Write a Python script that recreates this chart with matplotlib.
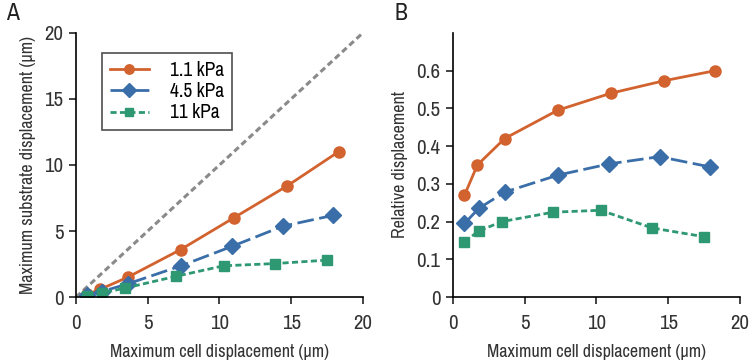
import matplotlib
matplotlib.use("Agg")
import matplotlib.pyplot as plt

plt.rcParams['font.family'] = ['Archivo Narrow', 'Liberation Sans', 'DejaVu Sans']

# data
labels = ['1.1 kPa', '4.5 kPa', '11 kPa']
x_soft = [0.8, 1.7, 3.6, 7.3, 11.0, 14.7, 18.3]
x_mid = [0.8, 1.8, 3.6, 7.3, 10.9, 14.4, 17.9]
x_stiff = [0.8, 1.8, 3.4, 7.0, 10.3, 13.9, 17.5]
sub_soft = [0.2, 0.6, 1.5, 3.6, 6.0, 8.4, 11.0]
sub_mid = [0.16, 0.42, 1.0, 2.36, 3.85, 5.36, 6.18]
sub_stiff = [0.12, 0.3, 0.68, 1.58, 2.37, 2.54, 2.8]
rel_soft = [0.27, 0.35, 0.42, 0.495, 0.54, 0.573, 0.60]
rel_mid = [0.195, 0.235, 0.278, 0.323, 0.353, 0.372, 0.345]
rel_stiff = [0.147, 0.175, 0.2, 0.225, 0.23, 0.183, 0.16]
diag = [0, 20]

colors = ['#D2622E', '#3A6EA8', '#2E9872']
markers = ['o', 'D', 's']
styles = ['-', (0, (6, 2)), (0, (2.2, 1.2))]
msizes = [8, 8, 7.5]

fig = plt.figure(figsize=(7.49, 3.61), dpi=100)
axA = fig.add_axes([0.1015, 0.177, 0.383, 0.732])
axB = fig.add_axes([0.6048, 0.177, 0.383, 0.732])

xs = [x_soft, x_mid, x_stiff]

# panel A
axA.plot(diag, diag, color='#8a8a8a', lw=2.2, linestyle=(0, (2, 1.2)))
for x, y, c, m, ls, ms, lab in zip(xs, [sub_soft, sub_mid, sub_stiff], colors, markers, styles, msizes, labels):
    axA.plot(x, y, color=c, marker=m, ms=ms, lw=2, linestyle=ls, label=lab)
axA.set_xlim(0, 20)
axA.set_ylim(0, 20)
axA.set_xticks([0, 5, 10, 15, 20])
axA.set_yticks([0, 5, 10, 15, 20])
axA.set_xlabel('Maximum cell displacement (μm)', fontsize=13, labelpad=8)
axA.set_ylabel('Maximum substrate displacement (μm)', fontsize=13, labelpad=6)
leg = axA.legend(loc='upper left', bbox_to_anchor=(0.09, 0.924), fontsize=14, frameon=True,
                 fancybox=False, edgecolor='#222222', handlelength=2.0, handletextpad=1.1,
                 borderpad=0.4, labelspacing=0.12, borderaxespad=0, markerscale=0.85)
leg.get_frame().set_linewidth(1.2)

# panel B
for x, y, c, m, ls, ms in zip(xs, [rel_soft, rel_mid, rel_stiff], colors, markers, styles, msizes):
    axB.plot(x, y, color=c, marker=m, ms=ms, lw=2, linestyle=ls)
axB.set_xlim(0, 20)
axB.set_ylim(0, 0.7)
axB.set_xticks([0, 5, 10, 15, 20])
axB.set_yticks([0, 0.1, 0.2, 0.3, 0.4, 0.5, 0.6])
axB.set_yticklabels(['0', '0.1', '0.2', '0.3', '0.4', '0.5', '0.6'])
axB.set_xlabel('Maximum cell displacement (μm)', fontsize=13, labelpad=8)
axB.set_ylabel('Relative displacement', fontsize=13, labelpad=6)

for ax in (axA, axB):
    ax.spines['top'].set_visible(False)
    ax.spines['right'].set_visible(False)
    ax.spines['left'].set_linewidth(1.2)
    ax.spines['bottom'].set_linewidth(1.2)
    ax.tick_params(direction='out', length=5, width=1.2, labelsize=15, pad=4,
                   color='#222222', labelcolor='#333333')
    ax.tick_params(axis='x', pad=7)
    ax.xaxis.label.set_color('#333333')
    ax.yaxis.label.set_color('#333333')

fig.text(0.008, 0.945, 'A', fontsize=17, color='#222222')
fig.text(0.527, 0.945, 'B', fontsize=17, color='#222222')

fig.savefig('out.png', dpi=100)
